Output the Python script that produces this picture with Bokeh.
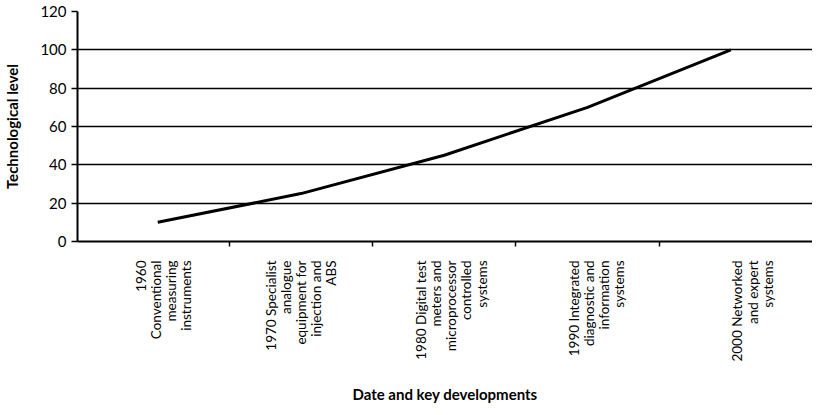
from math import pi
from bokeh.plotting import figure
from bokeh.models import Range1d, FixedTicker, CustomJSTickFormatter
from bokeh.embed import file_html
from bokeh.resources import INLINE

# Data
positions = [0, 1, 2, 3, 4]
tech_level = [10, 25, 45, 70, 100]
category_labels = [
    "1960\nConventional\nmeasuring\ninstruments",
    "1970 Specialist\nanalogue\nequipment for\ninjection and\nABS",
    "1980 Digital test\nmeters and\nmicroprocessor\ncontrolled\nsystems",
    "1990 Integrated\ndiagnostic and\ninformation\nsystems",
    "2000 Networked\nand expert\nsystems",
]
y_ticks = [0, 20, 40, 60, 80, 100, 120]
grid_levels = [20, 40, 60, 80, 100]
boundaries = [0.5, 1.5, 2.5, 3.5]

# layout: horizontal nudges of the label blocks (pixels), as in the original
label_nudge_px = [6, 0, 7, 9, 22]
PX_PER_UNIT = 144.3
label_ticks = [x + n / PX_PER_UNIT for x, n in zip(positions, label_nudge_px)]

FONT = "Lato"

p = figure(width=812, height=413, output_backend="svg", toolbar_location=None,
           x_range=Range1d(-0.56, 4.57), y_range=Range1d(0, 120),
           min_border_left=72, min_border_right=0, min_border_top=11,
           min_border_bottom=172)
p.outline_line_color = None
p.background_fill_color = "white"
p.border_fill_color = "white"

p.line(positions, tech_level, line_width=3, line_color="black")

# x axis
xa = p.xaxis[0]
xa.ticker = FixedTicker(ticks=label_ticks, minor_ticks=boundaries)
xa.formatter = CustomJSTickFormatter(args=dict(labels=category_labels),
                                     code="return labels[Math.round(tick)];")
xa.major_label_orientation = pi / 2
xa.major_tick_out = 0
xa.major_tick_in = 0
xa.minor_tick_out = 5
xa.minor_tick_in = 0
xa.minor_tick_line_color = "black"
xa.minor_tick_line_width = 1.5
xa.axis_line_color = "black"
xa.axis_line_width = 2
xa.major_label_text_font = FONT
xa.major_label_text_font_size = "13.5px"
xa.major_label_text_line_height = 0.95
xa.major_label_text_color = "black"
xa.major_label_standoff = 14
xa.axis_label = "Date and key developments"
xa.axis_label_text_font = FONT
xa.axis_label_text_font_style = "bold"
xa.axis_label_text_font_size = "15px"
xa.axis_label_text_color = "black"
xa.axis_label_standoff = 20

# y axis
ya = p.yaxis[0]
ya.ticker = FixedTicker(ticks=y_ticks)
ya.major_tick_out = 6
ya.major_tick_in = 0
ya.minor_tick_out = 0
ya.minor_tick_in = 0
ya.major_tick_line_width = 1.5
ya.axis_line_width = 2
ya.axis_line_color = "black"
ya.major_label_text_font = FONT
ya.major_label_text_font_size = "15px"
ya.major_label_text_color = "black"
ya.major_label_standoff = 5
ya.axis_label = "Technological level"
ya.axis_label_text_font = FONT
ya.axis_label_text_font_style = "bold"
ya.axis_label_text_font_size = "15px"
ya.axis_label_text_color = "black"
ya.axis_label_standoff = 16

# grids
p.xgrid.visible = False
p.ygrid.ticker = FixedTicker(ticks=grid_levels)
p.ygrid.grid_line_color = "black"
p.ygrid.grid_line_width = 1.5

open("out.html", "w").write(file_html(p, INLINE))
